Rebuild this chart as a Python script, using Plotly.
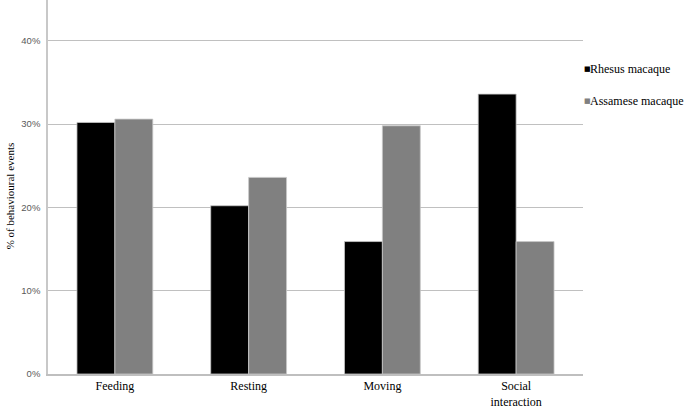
import plotly.graph_objects as go

categories = ["Feeding", "Resting", "Moving", "Social<br>interaction"]
rhesus = [0.302, 0.202, 0.159, 0.336]
assamese = [0.306, 0.236, 0.298, 0.159]
series_names = ["Rhesus macaque", "Assamese macaque"]
colors = ["#000000", "#808080"]
y_title = "% of behavioural events"

SERIF = "Liberation Serif, Times New Roman, serif"

fig = go.Figure()
for name, vals, col in zip(series_names, [rhesus, assamese], colors):
    fig.add_trace(go.Bar(
        x=categories, y=vals, name=name, showlegend=False,
        marker=dict(color=col, line=dict(color="#c8c8c8", width=0.8)),
    ))

# legend drawn as annotations (small square marker right next to the text)
legend_y = [0.815, 0.73]
for name, col, ly in zip(series_names, colors, legend_y):
    fig.add_annotation(
        xref="paper", yref="paper", x=1.0085, y=ly, xanchor="center", yanchor="middle",
        showarrow=False, text="■", borderpad=0,
        font=dict(family="DejaVu Sans", size=7, color=col),
    )
    fig.add_annotation(
        xref="paper", yref="paper", x=1.0105, y=ly, xanchor="left", yanchor="middle",
        showarrow=False, align="left", text=name, borderpad=0,
        font=dict(family=SERIF, size=12, color="#000000"),
    )

fig.add_annotation(
    xref="paper", yref="paper", x=-0.071, y=0.475, xanchor="center", yanchor="middle",
    showarrow=False, textangle=-90, text=y_title,
    font=dict(family=SERIF, size=11, color="#000000"),
)

fig.update_layout(
    width=685, height=409,
    margin=dict(l=48, r=102, t=0, b=35, autoexpand=False),
    paper_bgcolor="white", plot_bgcolor="white",
    barmode="group", bargap=0.433, bargroupgap=0,
    font=dict(family=SERIF, size=12, color="#000000"),
    showlegend=False,
    xaxis=dict(
        automargin=False,
        showline=True, linecolor="#bfbfbf", linewidth=1.5,
        ticks="", tickfont=dict(family=SERIF, size=12),
        showgrid=False,
    ),
    yaxis=dict(
        automargin=False,
        range=[0, 0.449], dtick=0.1, tickformat=".0%",
        showline=True, linecolor="#c8c8c8", linewidth=1.5,
        showgrid=True, gridcolor="#c0c0c0", gridwidth=1,
        zeroline=False, ticks="", ticklabelstandoff=4,
        tickfont=dict(family="Liberation Sans", size=9.5, color="#595959"),
    ),
)

fig.write_html("out.html", config={"displayModeBar": False},
               post_script="document.body.style.margin='0';")
